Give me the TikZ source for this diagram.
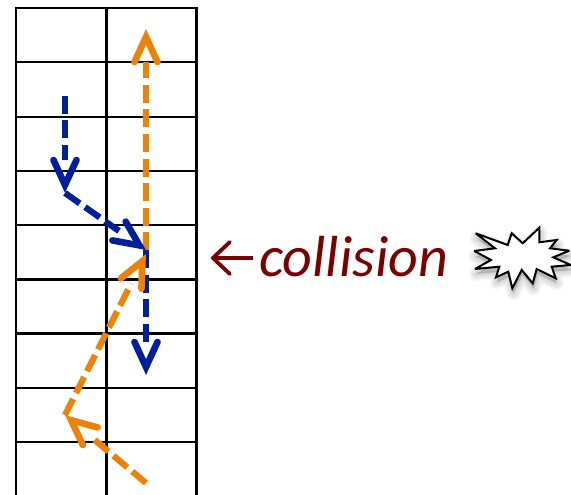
\documentclass[tikz,border=0pt]{standalone}
\usepackage{fontspec}
\setmainfont{Carlito}
\usepackage{tikz}
\usetikzlibrary{arrows.meta,positioning}
\definecolor{flowblue}{HTML}{001F9C}
\definecolor{floworange}{HTML}{EE8206}
\definecolor{collred}{HTML}{7B0000}
\newcommand{\burstpath}{(475.7,233.3) -- (507.7,245) -- (511.7,233.3) -- (522.7,243.3) -- (539.3,227.7) -- (539.3,242.3) -- (556.7,240) -- (550,248.3) -- (569.3,250.7) -- (553.3,257.3) -- (570.7,265) -- (551.7,266.7) -- (555.7,278.3) -- (536.7,269) -- (532.7,283.3) -- (521.7,270) -- (512.3,288.3) -- (508.3,271.7) -- (496,277.3) -- (499.3,266.7) -- (475,269) -- (491,260) -- (474.3,251) -- (495,248.3) -- cycle}
\pgfdeclarearrow{
  name=Flow Barb,
  setup code={
    \pgfarrowssettipend{0pt}
    \pgfarrowssetlineend{-33pt}
    \pgfarrowssetbackend{-36pt}
  },
  drawing code={
    \pgfsetdash{}{0pt}
    \pgfsetlinewidth{6.6pt}
    \pgfsetroundcap
    \pgfsetmiterjoin
    \pgfpathmoveto{\pgfpoint{-33pt}{11.5pt}}
    \pgfpathlineto{\pgfpoint{-8pt}{0pt}}
    \pgfpathlineto{\pgfpoint{-33pt}{-11.5pt}}
    \pgfusepathqstroke
  },
  defaults={}
}
\begin{document}
\begin{tikzpicture}[x=1pt,y=-1pt,
  gridline/.style={draw=black,line width=2.8pt},
  flow/.style={line width=6.2pt,dash pattern=on 18pt off 6.5pt,-{Flow Barb}},
  blueflow/.style={flow,draw=flowblue},
  orangeflow/.style={flow,draw=floworange},
  label/.style={font=\itshape\fontsize{58}{58}\selectfont,text=collred,inner sep=0pt}]
  \useasboundingbox (0,0) rectangle (571,495);
  % grid
  \foreach \y in {8,62,117,171,225,279.5,333.5,388,442}
    \draw[gridline] (15,\y) -- (197.5,\y);
  \foreach \x in {16,106.5,196.5}
    \draw[gridline] (\x,8) -- (\x,495);
  % turning points
  \coordinate (b1) at (65,96);
  \coordinate (b2) at (65,193);
  \coordinate (b3) at (146,250);
  \coordinate (b4) at (146,375);
  \coordinate (o1) at (146,483);
  \coordinate (o2) at (65,415);
  \coordinate (o3) at (146,254);
  \coordinate (o4) at (146,250);
  \coordinate (o5) at (146,29);
  % orange goes under the blue
  \draw[orangeflow] (o4) -- (o5);
  \draw[blueflow] (b1) -- (b2);
  \draw[blueflow] (b2) -- (b3);
  \draw[blueflow] (b3) -- (b4);
  \draw[orangeflow] (o1) -- (o2);
  \draw[orangeflow] (o2) -- (o3);
  % label
  \node[label,anchor=base west] (coll) at (259,276) {collision};
  \coordinate (collend) at (211,258);
  \draw[draw=collred,line width=3.8pt,-{Straight Barb[length=17pt,width=32pt,line width=3.8pt,round]}]
    ([xshift=-6pt]coll.west |- collend) -- (collend);
  % burst
  \foreach \w in {14,11,8,5,2}
    \draw[black,opacity=0.035,line width=\w pt,line join=round,fill=black,shift={(1,5)}] \burstpath;
  \draw[black,line width=2pt,miter limit=3,fill=white] \burstpath;
\end{tikzpicture}
\end{document}
